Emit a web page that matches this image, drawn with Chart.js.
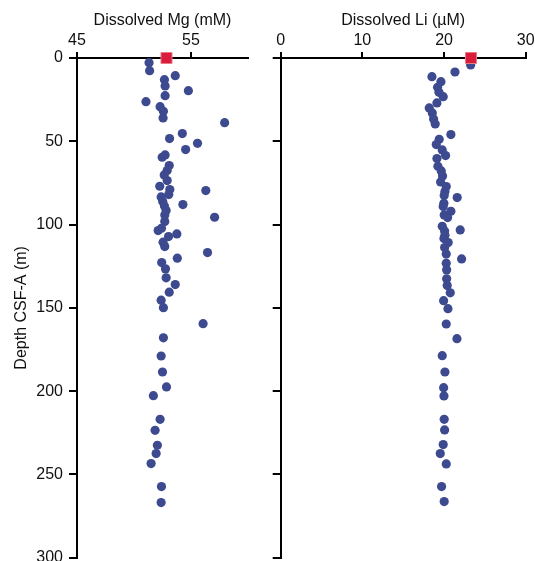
<!DOCTYPE html>
<html>
<head>
<meta charset="utf-8">
<script src="https://cdn.jsdelivr.net/npm/chart.js"></script>
<style>
  body { margin: 0; background: #fff; }
  #wrap { position: relative; width: 535px; height: 561px; overflow: hidden; }
  canvas { position: absolute; top: 0; }
  #mg { left: 0; }
  #li { left: 265px; }
</style>
</head>
<body>
<div id="wrap">
  <canvas id="mg" width="265" height="561"></canvas>
  <canvas id="li" width="270" height="561"></canvas>
</div>
<script>
// depth (m) and pore water values
var mgDepth = [2.8, 7.6, 10.6, 13, 16.8, 19.6, 22.6, 26.2, 29.2, 32, 36, 38.8, 45.4, 48.4, 51.2, 55, 58.2, 59.6, 64.6, 67.6, 70.2, 73.6, 77, 79, 79.6, 82, 83.4, 86.2, 88, 88.8, 91.6, 94.2, 95.6, 98.2, 102.2, 103.6, 105.6, 107.2, 110.6, 113.2, 116.8, 120.2, 122.8, 126.6, 132, 136, 140.6, 145.4, 149.9, 159.5, 168, 178.9, 188.5, 197.5, 202.7, 216.9, 223.5, 232.5, 237.5, 243.5, 257.3, 266.9];
var mgValues = [51.32, 51.37, 53.62, 52.67, 52.73, 54.77, 52.73, 51.05, 52.29, 52.58, 52.55, 57.95, 54.24, 53.12, 55.57, 54.53, 52.73, 52.47, 53.09, 52.91, 52.65, 52.91, 52.26, 53.14, 56.3, 53.05, 52.38, 52.52, 54.29, 52.67, 52.82, 52.7, 57.07, 52.7, 52.41, 52.12, 53.76, 53.03, 52.55, 52.7, 56.45, 53.8, 52.43, 52.76, 52.82, 53.62, 53.09, 52.38, 52.58, 56.06, 52.58, 52.38, 52.5, 52.85, 51.7, 52.29, 51.85, 52.05, 51.94, 51.5, 52.41, 52.38];

var liDepth = [4.2, 8.4, 11.2, 14.2, 17.6, 20.6, 23.2, 27, 30, 33, 36.6, 39.6, 46, 48.8, 52, 55.2, 58.6, 60.4, 65, 67.8, 70.8, 74.4, 77.2, 80.2, 82.6, 83.8, 87.2, 89.2, 92, 94.2, 95.8, 101, 103.2, 103.8, 106.4, 108.4, 110.8, 113.8, 117.6, 120.6, 123.2, 127.2, 132.6, 136.6, 141, 145.7, 150.5, 159.7, 168.5, 178.7, 188.5, 197.9, 202.9, 216.9, 223.3, 232.1, 237.5, 243.7, 257.3, 266.3];
var liValues = [23.26, 21.34, 18.52, 19.62, 19.21, 19.38, 19.9, 19.13, 18.19, 18.56, 18.72, 18.92, 20.84, 19.41, 19.05, 19.78, 20.19, 19.13, 19.25, 19.66, 19.82, 19.58, 20.27, 20.11, 20.02, 21.61, 19.98, 19.9, 20.84, 20.02, 20.44, 19.78, 21.98, 20.07, 20.11, 19.99, 20.51, 20.07, 20.27, 22.15, 20.27, 20.32, 20.32, 20.39, 20.76, 19.95, 20.48, 20.27, 21.58, 19.78, 20.11, 19.95, 19.99, 20.02, 20.07, 19.9, 19.54, 20.27, 19.7, 20.02];

// seawater values (red squares at the sea floor)
var seawaterDepth = [0];
var mgSeawater = [52.85];
var liSeawater = [23.3];

var depthTicks = [0, 50, 100, 150, 200, 250, 300];
var mgTicks = [45, 55];
var liTicks = [0, 10, 20, 30];

Chart.defaults.font.family = "'Liberation Sans', Arial, sans-serif";
Chart.defaults.font.size = 16;
Chart.defaults.color = '#111';

function toPoints(xs, ys) {
  var pts = [];
  for (var i = 0; i < xs.length; i++) {
    pts.push({x: xs[i], y: ys[i]});
  }
  return pts;
}

function makePanel(id, cfg) {
  var ctx = document.getElementById(id).getContext('2d');
  return new Chart(ctx, {
    type: 'scatter',
    data: {
      datasets: [{
        data: toPoints(cfg.seawater, seawaterDepth),
        pointStyle: 'rect',
        pointRadius: 7.8,
        backgroundColor: '#d81e3a',
        borderColor: '#ea7a86',
        borderWidth: 1,
        clip: false
      }, {
        data: toPoints(cfg.values, cfg.depth),
        pointRadius: 4.6,
        backgroundColor: '#3d4a8f',
        borderColor: '#3d4a8f',
        borderWidth: 0,
        clip: false
      }]
    },
    options: {
      responsive: false,
      animation: false,
      layout: { autoPadding: false, padding: cfg.padding },
      plugins: { legend: { display: false }, tooltip: { enabled: false } },
      scales: {
        x: {
          position: 'top',
          min: cfg.min,
          max: cfg.max,
          afterBuildTicks: function(scale) {
            scale.ticks = cfg.ticks.map(function(v) { return {value: v}; });
          },
          afterFit: function(scale) {
            scale.height = 58;
            scale.paddingLeft = 0;
            scale.paddingRight = 0;
          },
          border: { display: true, color: '#000', width: 2 },
          grid: { drawOnChartArea: false, drawTicks: true, tickLength: 6, color: '#000', lineWidth: 2 },
          ticks: { autoSkip: false, maxRotation: 0, padding: 2, color: '#111' },
          title: { display: true, text: cfg.title, color: '#111', padding: { top: 11, bottom: 0 } }
        },
        y: {
          reverse: true,
          min: 0,
          max: 300,
          afterBuildTicks: function(scale) {
            scale.ticks = depthTicks.map(function(v) { return {value: v}; });
          },
          afterFit: function(scale) {
            scale.width = cfg.yWidth;
            scale.paddingTop = 0;
            scale.paddingBottom = 0;
          },
          border: { display: true, color: '#000', width: 2 },
          grid: { drawOnChartArea: false, drawTicks: true, tickLength: 8, color: '#000', lineWidth: 2 },
          ticks: { display: cfg.showDepth, autoSkip: false, padding: 6, color: '#111' },
          title: { display: cfg.showDepth, text: 'Depth CSF-A (m)', color: '#111', padding: { top: 12, bottom: 0 } }
        }
      }
    }
  });
}

var mgChart = makePanel('mg', {
  depth: mgDepth, values: mgValues, seawater: mgSeawater,
  min: 45, max: 60, ticks: mgTicks, title: 'Dissolved Mg (mM)',
  yWidth: 77, showDepth: true,
  padding: { left: 0, right: 17, top: 0, bottom: 3.3 }
});

var liChart = makePanel('li', {
  depth: liDepth, values: liValues, seawater: liSeawater,
  min: 0, max: 30, ticks: liTicks, title: 'Dissolved Li (µM)',
  yWidth: 15.7, showDepth: false,
  padding: { left: 0, right: 9.3, top: 0, bottom: 3.3 }
});
</script>
</body>
</html>
